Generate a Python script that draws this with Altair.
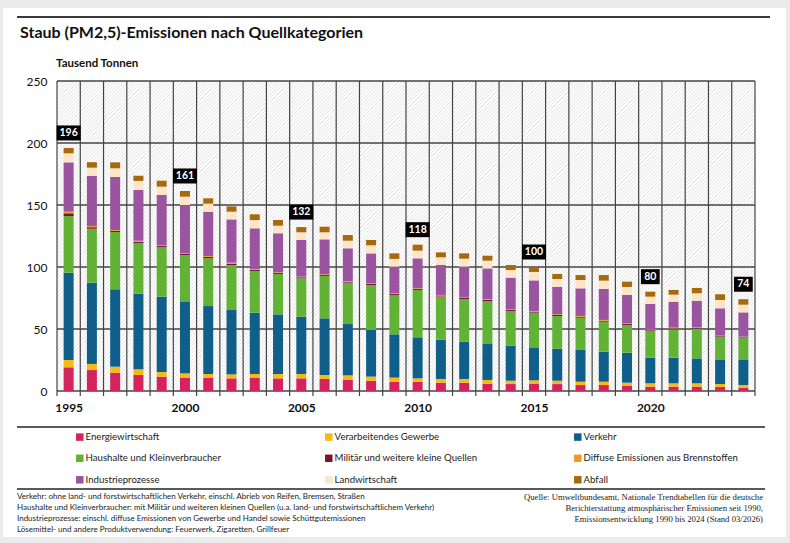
import altair as alt
import pandas as pd

# ---- data (Tausend Tonnen PM2,5) ----
years = list(range(1995, 2025))
axis_years = [1995, 2000, 2005, 2010, 2015, 2020]
labelled_years = [1995, 2000, 2005, 2010, 2015, 2020, 2024]
y_ticks = [0, 50, 100, 150, 200, 250]

categories = [
    "Energiewirtschaft",
    "Verarbeitendes Gewerbe",
    "Verkehr",
    "Haushalte und Kleinverbraucher",
    "Militär und weitere kleine Quellen",
    "Diffuse Emissionen aus Brennstoffen",
    "Industrieprozesse",
    "Landwirtschaft",
    "Abfall",
]
palette = ["#d3245e", "#f6bb12", "#0f5f8a", "#62b335", "#7c1431",
           "#e99a2a", "#9b54a0", "#fde5c8", "#a7690b"]

energiewirtschaft = [19.1, 16.9, 14.8, 12.9, 11.6, 10.8, 10.8, 10.2, 10.8, 10.2,
                     10.2, 9.7, 8.9, 8.3, 7.5, 7.5, 6.7, 6.7, 5.9, 5.6,
                     5.9, 5.6, 4.8, 4.8, 4.3, 3.5, 3.5, 3.5, 3.2, 2.7]
verarbeitendes = [5.9, 4.9, 4.8, 4.6, 3.7, 3.4, 2.9, 3.2, 2.9, 3.5,
                  3.5, 3.2, 3.7, 3.3, 3.3, 2.7, 3.0, 3.0, 3.0, 2.7,
                  2.7, 2.7, 2.7, 2.7, 2.4, 2.7, 2.7, 2.7, 2.4, 2.1]
verkehr = [70.4, 65.6, 62.4, 61.0, 60.8, 58.1, 54.8, 51.9, 49.5, 48.1,
           46.2, 45.7, 41.4, 37.6, 34.9, 33.1, 31.7, 30.1, 29.0, 28.3,
           26.6, 25.8, 25.6, 24.2, 24.2, 20.7, 20.7, 20.1, 19.4, 20.2]
haushalte = [45.7, 43.5, 46.2, 40.9, 39.8, 37.4, 38.5, 36.3, 33.6, 32.6,
             31.0, 34.1, 33.4, 36.3, 31.7, 38.2, 34.1, 34.4, 34.7, 27.9,
             28.0, 26.4, 26.0, 24.2, 22.3, 21.8, 22.8, 24.0, 18.8, 17.7]
militaer = [2.2, 1.2, 0.9, 1.0, 1.0, 0.8, 1.1, 1.1, 0.9, 0.8,
            0.8, 0.8, 0.8, 0.8, 0.8, 0.8, 0.8, 0.8, 0.9, 0.8,
            0.8, 0.8, 0.8, 0.8, 0.8, 0.8, 0.8, 0.6, 0.5, 0.6]
diffuse = [1.3, 1.0, 0.7, 0.8, 0.8, 0.5, 0.8, 0.8, 0.7, 0.5,
           0.5, 0.6, 0.5, 0.5, 0.6, 0.5, 0.6, 0.5, 0.7, 0.6,
           0.5, 0.5, 0.6, 0.6, 0.6, 0.5, 0.6, 0.4, 0.3, 0.5]
industrie = [39.8, 40.3, 42.8, 40.9, 40.4, 39.0, 35.7, 34.9, 32.8, 31.5,
             29.6, 28.2, 26.4, 24.2, 21.5, 24.2, 24.7, 24.8, 24.7, 25.5,
             24.7, 22.3, 22.3, 25.0, 22.8, 20.2, 20.9, 21.5, 22.1, 19.6]
landwirtschaft = [7.3, 6.7, 7.0, 7.3, 6.7, 6.7, 6.5, 6.2, 6.7, 6.1,
                  6.2, 5.7, 6.1, 6.5, 6.2, 6.2, 6.2, 6.4, 6.2, 6.2,
                  6.8, 6.2, 6.7, 6.7, 6.5, 5.9, 5.7, 6.0, 6.7, 6.2]
abfall = [4.3, 4.4, 4.8, 4.2, 4.8, 4.6, 4.3, 4.3, 4.6, 4.6,
          4.2, 4.5, 4.6, 4.3, 4.5, 4.8, 4.0, 4.3, 4.0, 4.0,
          4.0, 4.1, 4.0, 4.5, 4.3, 4.0, 3.8, 4.3, 4.6, 4.4]

series = [energiewirtschaft, verarbeitendes, verkehr, haushalte, militaer,
          diffuse, industrie, landwirtschaft, abfall]

title_text = "Staub (PM2,5)-Emissionen nach Quellkategorien"
unit_text = "Tausend Tonnen"
notes_left = [
    "Verkehr: ohne land- und forstwirtschaftlichen Verkehr, einschl. Abrieb von Reifen, Bremsen, Straßen",
    "Haushalte und Kleinverbraucher: mit Militär und weiteren kleinen Quellen (u.a. land- und forstwirtschaftlichem Verkehr)",
    "Industrieprozesse: einschl. diffuse Emissionen von Gewerbe und Handel sowie Schüttgutemissionen",
    "Lösemittel- und andere Produktverwendung: Feuerwerk, Zigaretten, Grillfeuer",
]
notes_right = [
    "Quelle: Umweltbundesamt, Nationale Trendtabellen für die deutsche",
    "Berichterstattung atmosphärischer Emissionen seit 1990,",
    "Emissionsentwicklung 1990 bis 2024 (Stand 03/2026)",
]

rows = []
for rank, (cat, vals) in enumerate(zip(categories, series)):
    for yr, v in zip(years, vals):
        rows.append({"Jahr": yr, "Quelle": cat, "Wert": v, "Rang": rank})
df = pd.DataFrame(rows)

# ---- layout ----
W, H = 698, 310
FONT = "Lato"
X_LO, X_HI = years[0] - 0.5, years[-1] + 0.5
YEARS_PER_PX = (X_HI - X_LO) / W
one_row = alt.Data(values=[{}])
PAGE = "#ebebeb"


def text_block(lines, x, y, **kw):
    return alt.Chart(one_row).mark_text(text=lines, **kw).encode(
        x=alt.value(x), y=alt.value(y))


def hline(x0, x1, y, width=1.6, color="#333333"):
    return alt.Chart(one_row).mark_rule(color=color, strokeWidth=width).encode(
        x=alt.value(x0), x2=alt.value(x1), y=alt.value(y))


def strip(x0, x1, y0, y1):
    return alt.Chart(one_row).mark_rect(color=PAGE).encode(
        x=alt.value(x0), x2=alt.value(x1), y=alt.value(y0), y2=alt.value(y1))


x_scale = alt.Scale(domain=[X_LO, X_HI], nice=False, zero=False, padding=0)
y_scale = alt.Scale(domain=[0, 250], nice=False, padding=0)

# one axis definition per channel, shared by every layer
X_AXIS = alt.Axis(
    title=None, values=axis_years, format="d", domain=False, ticks=False,
    grid=False, labelFont=FONT, labelFontSize=12, labelFontWeight="bold",
    labelColor="#111111", labelPadding=11, labelFlush=False,
)
Y_AXIS = alt.Axis(
    title=None, values=y_ticks, grid=False, domain=False, ticks=False,
    labelFont=FONT, labelFontSize=12, labelColor="#111111", labelPadding=10,
)


def xq(field):
    return alt.X(field, type="quantitative", scale=x_scale, axis=X_AXIS)


def yq(field, **kw):
    return alt.Y(field, type="quantitative", scale=y_scale, axis=Y_AXIS, **kw)


# grey page margins around the white card
page_edges = [
    strip(-57, 733, -81, -73),
    strip(-57, 733, 456, 462),
    strip(-57, -54, -81, 462),
    strip(729, 733, -81, 462),
]

# diagonal hatching of the plot background (45 degrees on screen)
hatch_gap = 3.6
hatch = alt.Chart(alt.sequence(0, int((W + H) / hatch_gap) + 2, as_="i")).transform_calculate(
    hx0=f"{X_LO} + (datum.i * {hatch_gap} - {H}) * {YEARS_PER_PX}",
    hx1=f"{X_LO} + datum.i * {hatch_gap} * {YEARS_PER_PX}",
).mark_rule(clip=True, color="#d2d2d2", strokeWidth=0.7).encode(
    x=xq("hx0"),
    x2="hx1:Q",
    y=alt.value(H),
    y2=alt.value(0),
)

# horizontal grid lines
hgrid = alt.Chart(pd.DataFrame({"v": y_ticks})).mark_rule(
    color="#444444", strokeWidth=1.3).encode(y=yq("v"))

# vertical lines between the year cells, reaching slightly below the baseline
vgrid = alt.Chart(pd.DataFrame({"Jahr": years + [years[-1] + 1]})).transform_calculate(
    grenze="datum.Jahr - 0.5"
).mark_rule(color="#444444", strokeWidth=1.2).encode(
    x=xq("grenze"), y=alt.value(0), y2=alt.value(H + 5))

bars = alt.Chart(df).mark_bar(width=10).encode(
    x=xq("Jahr"),
    y=yq("Wert", stack="zero"),
    color=alt.Color(
        "Quelle:N",
        scale=alt.Scale(domain=categories, range=palette),
        legend=alt.Legend(
            title=None, orient="none", legendX=18, legendY=351, columns=3,
            direction="horizontal",
            symbolType="square", symbolSize=56, symbolStrokeWidth=0,
            labelFont=FONT, labelFontSize=9.6, labelColor="#222222",
            labelLimit=400, labelOffset=1, gridAlign="all",
            columnPadding=84, rowPadding=10.5,
        ),
    ),
    order=alt.Order("Rang:Q", sort="ascending"),
)

box_paths = {
    "2": "M-1.25,-1L1.25,-1L1.25,1L-1.25,1Z",
    "3": "M-1.6,-1L1.6,-1L1.6,1L-1.6,1Z",
}
totals = alt.Chart(df).transform_filter(
    alt.FieldOneOfPredicate(field="Jahr", oneOf=labelled_years)
).transform_aggregate(
    total="sum(Wert)", groupby=["Jahr"]
).transform_calculate(
    label="format(datum.total, '.0f')",
    digits="'' + length(format(datum.total, '.0f'))",
)
total_boxes = totals.mark_point(
    filled=True, color="black", opacity=1, size=225, strokeWidth=0, yOffset=-15
).encode(
    x=xq("Jahr"),
    y=yq("total"),
    shape=alt.Shape("digits:N", scale=alt.Scale(domain=list(box_paths),
                                                range=list(box_paths.values())),
                    legend=None),
)
total_text = totals.mark_text(
    color="white", font=FONT, fontSize=10.5, fontWeight="bold",
    baseline="middle", yOffset=-15,
).encode(x=xq("Jahr"), y=yq("total"), text="label:N")

title = text_block(title_text, -37, -48, font=FONT, fontSize=16, fontWeight="bold",
                   align="left", baseline="middle", color="#111111")
unit = text_block(unit_text, -1, -17, font=FONT, fontSize=11.5, fontWeight="bold",
                  align="left", baseline="middle", color="#111111")
left_notes = text_block(notes_left, -40, 416, font=FONT, fontSize=8.0,
                        lineHeight=11, align="left", baseline="middle", color="#222222")
right_notes = text_block(notes_right, 706, 416, font="Liberation Serif", fontSize=8.7,
                         lineHeight=11, align="right", baseline="middle", color="#222222")

chart = alt.layer(
    *page_edges, hatch, hgrid, vgrid, bars, total_boxes, total_text,
    title, unit, left_notes, right_notes,
    hline(-40, 713, -64, width=2.2, color="#3a3a3a"),
    hline(-40, 708, 346, width=1.6, color="#222222"),
    hline(-40, 708, 408, width=1.6, color="#222222"),
).properties(
    width=W, height=H,
    autosize=alt.AutoSizeParams(type="none"),
    padding={"left": 57, "top": 81, "right": 35, "bottom": 152},
    background="white",
).configure_view(stroke=None)

chart.save("out.html", embed_options={"renderer": "svg", "actions": False})
